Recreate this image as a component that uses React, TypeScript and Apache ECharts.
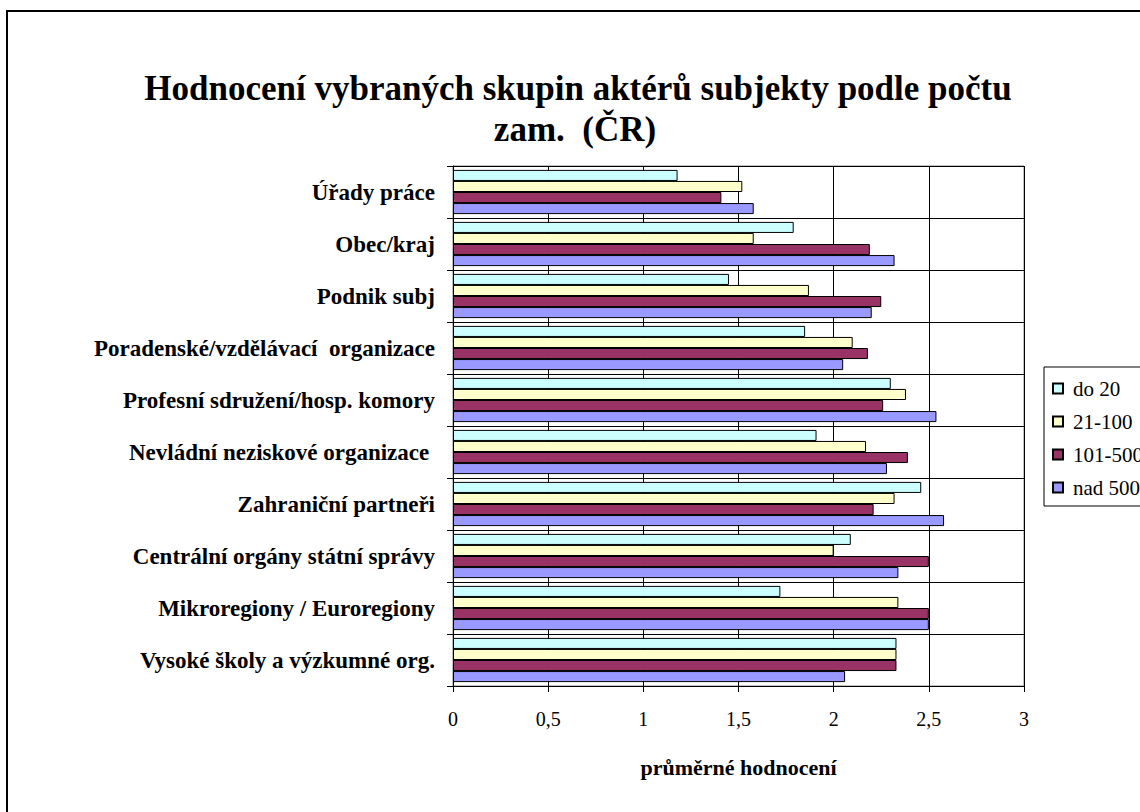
import React, { useEffect, useRef } from "react";
import * as echarts from "echarts";

const categories = [
  "Úřady práce",
  "Obec/kraj",
  "Podnik subj",
  "Poradenské/vzdělávací  organizace",
  "Profesní sdružení/hosp. komory",
  "Nevládní neziskové organizace ",
  "Zahraniční partneři",
  "Centrální orgány státní správy",
  "Mikroregiony / Euroregiony",
  "Vysoké školy a výzkumné org.",
];

const seriesNames = ["do 20", "21-100", "101-500", "nad 500"];
const seriesColors = ["#CCFFFF", "#FFFFCC", "#993366", "#9999FF"];

const do20 = [1.18, 1.79, 1.45, 1.85, 2.3, 1.91, 2.46, 2.09, 1.72, 2.33];
const from21to100 = [1.52, 1.58, 1.87, 2.1, 2.38, 2.17, 2.32, 2.0, 2.34, 2.33];
const from101to500 = [1.41, 2.19, 2.25, 2.18, 2.26, 2.39, 2.21, 2.5, 2.5, 2.33];
const over500 = [1.58, 2.32, 2.2, 2.05, 2.54, 2.28, 2.58, 2.34, 2.5, 2.06];

const seriesValues = [do20, from21to100, from101to500, over500];

const titleLine1 = "Hodnocení vybraných skupin aktérů subjekty podle počtu";
const titleLine2 = "zam.  (ČR)";
const xAxisName = "průměrné hodnocení";

const SERIF = "'Liberation Serif', 'DejaVu Serif', serif";

export default function App() {
  const ref = useRef<HTMLDivElement>(null);

  useEffect(() => {
    document.body.style.margin = "0";
    if (!ref.current) return;
    const chart = echarts.init(ref.current, null, { renderer: "svg" });
    chart.setOption({
      animation: false,
      backgroundColor: "#fff",
      textStyle: { fontFamily: SERIF },
      graphic: [
        {
          type: "rect",
          shape: { x: 7, y: 11, width: 1300, height: 1000 },
          style: { fill: "none", stroke: "#000", lineWidth: 2 },
          silent: true,
          z: -1,
        },
        {
          type: "text",
          x: 578,
          y: 88,
          style: {
            text: titleLine1,
            font: `bold 35px ${SERIF}`,
            fill: "#000",
            textAlign: "center",
            textVerticalAlign: "middle",
          },
        },
        {
          type: "text",
          x: 575,
          y: 129,
          style: {
            text: titleLine2,
            font: `bold 35px ${SERIF}`,
            fill: "#000",
            textAlign: "center",
            textVerticalAlign: "middle",
          },
        },
      ],
      legend: {
        orient: "vertical",
        left: 1044,
        top: 367,
        data: seriesNames,
        icon: "rect",
        itemWidth: 10,
        itemHeight: 10,
        itemGap: 12,
        padding: [11, 40, 8, 8],
        borderColor: "#000",
        borderWidth: 1,
        backgroundColor: "#fff",
        textStyle: {
          fontFamily: SERIF,
          fontSize: 21,
          color: "#000",
          padding: [0, 0, 0, 5],
        },
      },
      grid: {
        left: 453,
        top: 166,
        width: 571,
        height: 520,
        show: true,
        borderColor: "#808080",
        borderWidth: 1,
        backgroundColor: "transparent",
      },
      xAxis: {
        type: "value",
        min: 0,
        max: 3,
        interval: 0.5,
        name: xAxisName,
        nameLocation: "middle",
        nameGap: 70,
        nameTextStyle: {
          fontFamily: SERIF,
          fontWeight: "bold",
          fontSize: 22,
          color: "#000",
        },
        axisLine: { show: true, lineStyle: { color: "#000", width: 1 } },
        axisTick: { show: true, length: 6, lineStyle: { color: "#000" } },
        axisLabel: {
          margin: 23,
          fontFamily: SERIF,
          fontSize: 20,
          color: "#000",
          formatter: (v: number) => String(v).replace(".", ","),
        },
        splitLine: { show: true, lineStyle: { color: "#000", width: 1 } },
      },
      yAxis: {
        type: "category",
        data: categories,
        inverse: true,
        axisLine: { show: true, lineStyle: { color: "#000", width: 1 } },
        axisTick: { show: true, length: 6, lineStyle: { color: "#000" } },
        axisLabel: {
          margin: 18,
          fontFamily: SERIF,
          fontWeight: "bold",
          fontSize: 23,
          color: "#000",
        },
        splitLine: { show: true, lineStyle: { color: "#000", width: 1 } },
      },
      series: seriesNames.map((name, i) => ({
        name,
        type: "bar",
        data: seriesValues[i],
        barGap: "0%",
        barCategoryGap: "15%",
        itemStyle: {
          color: seriesColors[i],
          borderColor: "#000",
          borderWidth: 1,
        },
      })),
    });
    return () => chart.dispose();
  }, []);

  return (
    <div
      ref={ref}
      style={{ position: "absolute", left: 0, top: 0, width: 1140, height: 812 }}
    />
  );
}
